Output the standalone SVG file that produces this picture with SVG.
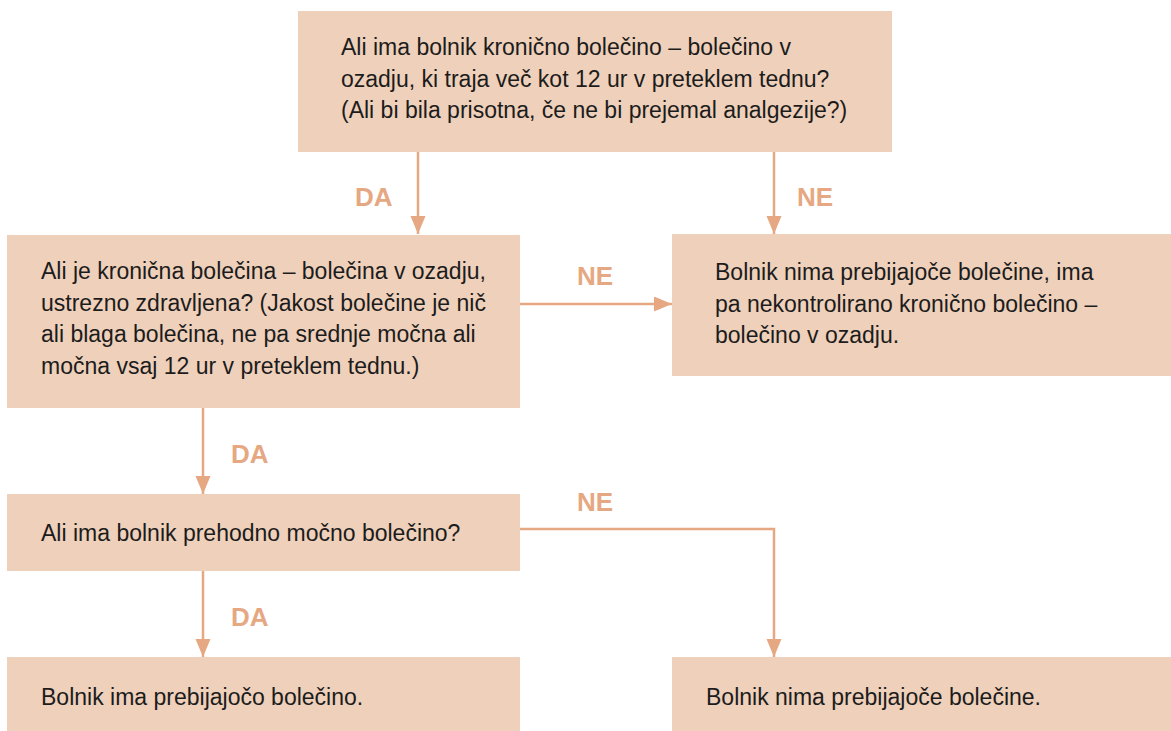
<svg xmlns="http://www.w3.org/2000/svg" width="1171" height="731" viewBox="0 0 1171 731">
<style>
.box{fill:#EFD0BA}
.t{font-family:"Liberation Sans",Arial,sans-serif;font-size:23px;fill:#1c1c1c}
.lbl{font-family:"Liberation Sans",Arial,sans-serif;font-size:26px;font-weight:bold;fill:#E6A882}
.con{fill:none;stroke:#E6A882;stroke-width:2.5}
</style>
<defs>
<marker id="ah" markerUnits="userSpaceOnUse" markerWidth="20" markerHeight="16" refX="18" refY="7.5" orient="auto">
<path d="M0,0 L18,7.5 L0,15 Z" fill="#E6A882"/>
</marker>
</defs>
<rect width="1171" height="731" fill="#ffffff"/>
<g id="connectors">
<path class="con" d="M418,152 V234" marker-end="url(#ah)"/>
<path class="con" d="M774,152 V234" marker-end="url(#ah)"/>
<path class="con" d="M520,304 H672" marker-end="url(#ah)"/>
<path class="con" d="M203,408 V494" marker-end="url(#ah)"/>
<path class="con" d="M520,529 H774 V657" marker-end="url(#ah)"/>
<path class="con" d="M203,571 V657" marker-end="url(#ah)"/>
<text class="lbl" x="355" y="206">DA</text>
<text class="lbl" x="797" y="206">NE</text>
<text class="lbl" x="577" y="285">NE</text>
<text class="lbl" x="231" y="463">DA</text>
<text class="lbl" x="577" y="511">NE</text>
<text class="lbl" x="231" y="626">DA</text>
</g>
<g id="n1">
<rect class="box" x="298" y="11" width="594" height="141"/>
<text class="t" x="341" y="55">Ali ima bolnik kronično bolečino – bolečino v</text>
<text class="t" x="341" y="86.5">ozadju, ki traja več kot 12 ur v preteklem tednu?</text>
<text class="t" x="341" y="118">(Ali bi bila prisotna, če ne bi prejemal analgezije?)</text>
</g>
<g id="n2">
<rect class="box" x="7" y="235" width="513" height="173"/>
<text class="t" x="41" y="279">Ali je kronična bolečina – bolečina v ozadju,</text>
<text class="t" x="41" y="310.5">ustrezno zdravljena? (Jakost bolečine je nič</text>
<text class="t" x="41" y="342">ali blaga bolečina, ne pa srednje močna ali</text>
<text class="t" x="41" y="373.5">močna vsaj 12 ur v preteklem tednu.)</text>
</g>
<g id="n3">
<rect class="box" x="672" y="234" width="499" height="142"/>
<text class="t" x="715" y="280">Bolnik nima prebijajoče bolečine, ima</text>
<text class="t" x="715" y="311.5">pa nekontrolirano kronično bolečino –</text>
<text class="t" x="715" y="343">bolečino v ozadju.</text>
</g>
<g id="n4">
<rect class="box" x="7" y="494" width="513" height="77"/>
<text class="t" x="41" y="541">Ali ima bolnik prehodno močno bolečino?</text>
</g>
<g id="n5">
<rect class="box" x="7" y="657" width="513" height="74"/>
<text class="t" x="41" y="705">Bolnik ima prebijajočo bolečino.</text>
</g>
<g id="n6">
<rect class="box" x="672" y="657" width="499" height="74"/>
<text class="t" x="706" y="705">Bolnik nima prebijajoče bolečine.</text>
</g>
</svg>
